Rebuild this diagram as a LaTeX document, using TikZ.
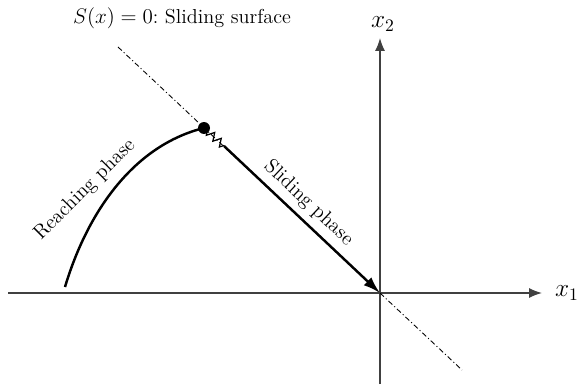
\documentclass[tikz,border=0pt]{standalone}
\usepackage{amsmath,amssymb}
\usetikzlibrary{arrows.meta,decorations.pathmorphing}

\begin{document}
\begin{tikzpicture}[
  x=0.02cm,y=-0.02cm,
  axis/.style={line width=0.8pt,draw=black!75,-{Latex[length=2.6mm,width=2mm]}},
  traj/.style={line width=1.4pt},
  surf/.style={line width=0.5pt,dash pattern=on 3pt off 1.5pt on 0.6pt off 1.5pt},
  dot/.style={circle,fill,inner sep=0pt,minimum size=2.4mm},
  lbl/.style={font=\fontsize{11.5}{14}\selectfont}
]
  \useasboundingbox (0,0) rectangle (582,385);
  \coordinate (o)  at (380,293);
  \coordinate (xs) at (8,293);
  \coordinate (xe) at (542,293);
  \coordinate (ys) at (380,384);
  \coordinate (ye) at (380,38);
  \draw[axis] (xs)--(xe);
  \draw[axis] (ys)--(ye);
  \node[font=\Large] (x1) at (567,293) {$x_1$};
  \node[font=\Large] (x2) at (383,24)  {$x_2$};

  % sliding surface
  \coordinate (s0) at (118,47);
  \coordinate (s1) at (462,370);
  \draw[surf] (s0)--(s1);
  \node[lbl] (sl) at (182,18) {$S(x)=0$:~Sliding surface};

  % trajectory
  \node[dot] (p) at (204,128) {};
  \coordinate (x0) at (65,287);
  \coordinate (z)  at (224,146);
  \draw[traj] (x0) .. controls (88,210) and (135,145) .. (p.center);
  \draw[line width=0.7pt,decorate,decoration={zigzag,segment length=5pt,amplitude=2.2pt}] (p.center)--(z);
  \draw[traj,-{Latex[length=3.4mm,width=2.2mm]}] (z)--node[lbl,sloped,above=0pt,pos=0.47]{Sliding phase}(o);
  \node[lbl,rotate=45] (rl) at (85,190) {Reaching phase};
\end{tikzpicture}
\end{document}
